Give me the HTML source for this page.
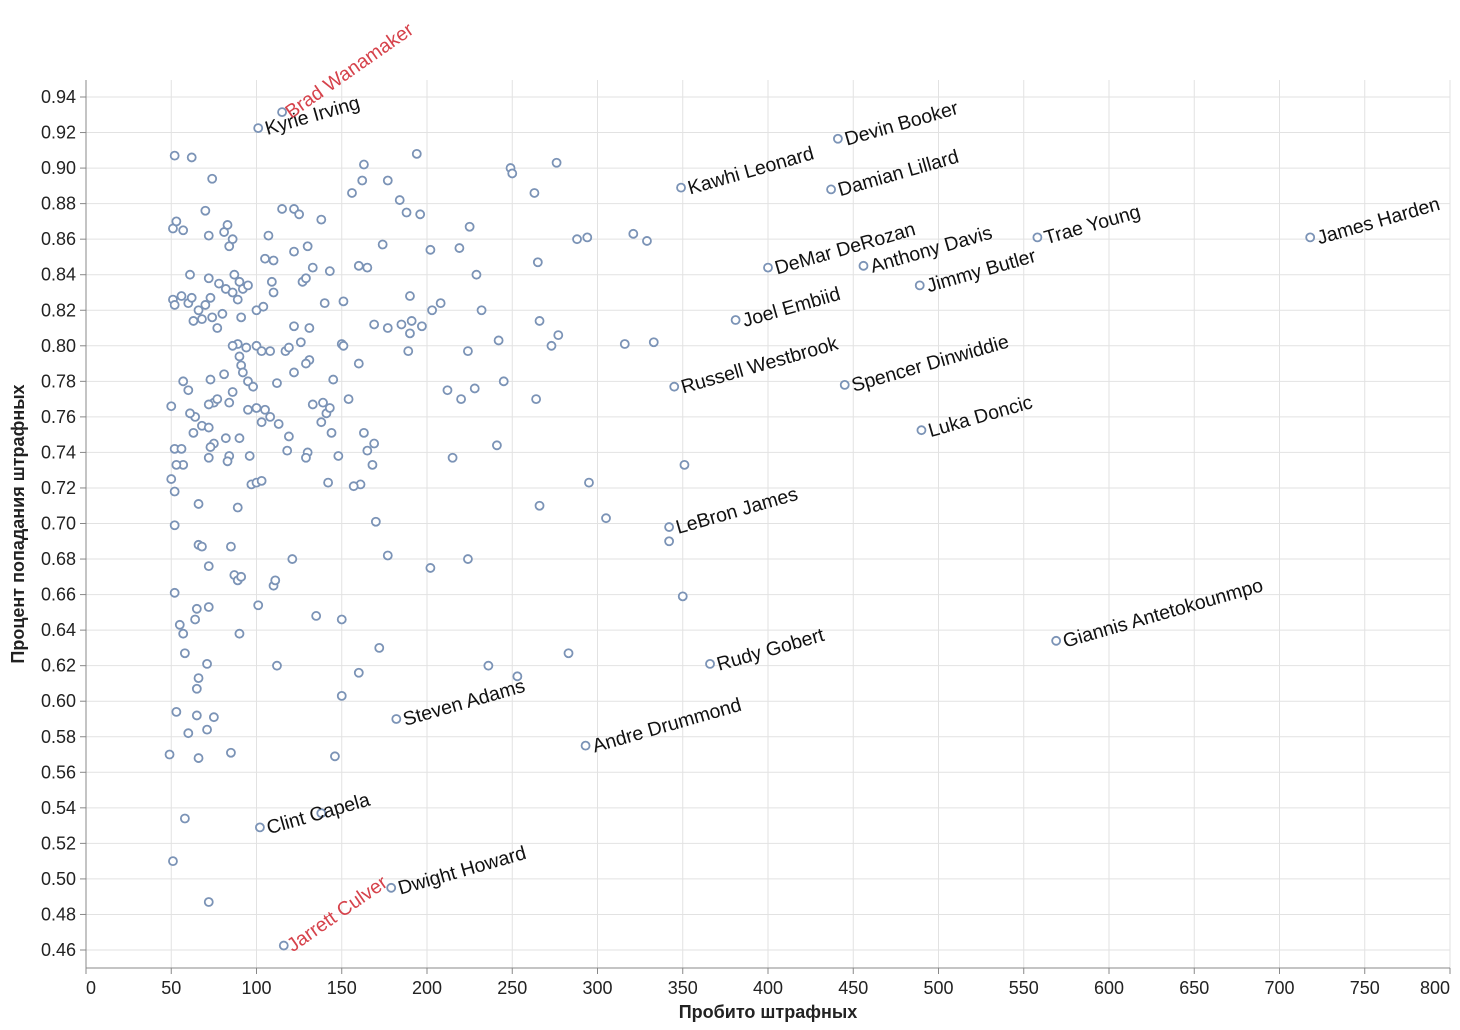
<!DOCTYPE html>
<html><head><meta charset="utf-8"><style>
body{margin:0;background:#fff;}
svg{display:block;font-family:"Liberation Sans",sans-serif;}
</style></head><body>
<svg id="chart" width="1460" height="1030" viewBox="0 0 1460 1030"></svg>
<script>
const xTicks=[0,50,100,150,200,250,300,350,400,450,500,550,600,650,700,750,800];
const yTicks=[0.46,0.48,0.50,0.52,0.54,0.56,0.58,0.60,0.62,0.64,0.66,0.68,0.70,0.72,0.74,0.76,0.78,0.80,0.82,0.84,0.86,0.88,0.90,0.92,0.94];
const namedPlayers=["Brad Wanamaker","Kyrie Irving","Devin Booker","Kawhi Leonard","Damian Lillard","James Harden","Trae Young","DeMar DeRozan","Anthony Davis","Jimmy Butler","Joel Embiid","Russell Westbrook","Spencer Dinwiddie","Luka Doncic","LeBron James","Giannis Antetokounmpo","Rudy Gobert","Steven Adams","Andre Drummond","Clint Capela","Dwight Howard","Jarrett Culver"];
const namedAttempts=[115,101,441,349,437,718,558,400,456,489,381,345,445,490,342,569,366,182,293,102,179,116];
const namedPct=[0.9315,0.9225,0.9165,0.889,0.888,0.861,0.861,0.844,0.845,0.834,0.8145,0.777,0.778,0.7525,0.698,0.634,0.621,0.590,0.575,0.529,0.495,0.4625];
const otherAttempts=[52,62,74,51,53,57,70,72,81,83,84,86,61,51,52,56,60,62,66,63,68,70,73,74,72,78,80,77,82,87,86,90,92,95,89,91,100,104,107,105,110,109,110,115,122,125,122,130,138,127,129,133,143,140,151,156,162,163,177,184,188,196,194,174,160,165,202,219,225,229,190,203,208,232,249,250,276,263,265,288,294,321,329,266,277,273,316,333,242,224,245,228,220,212,264,241,215,351,295,305,266,342,350,283,253,236,224,202,177,185,191,190,197,189,150,151,145,154,139,141,143,138,144,133,130,129,131,129,122,117,119,126,122,131,112,118,119,113,108,105,100,95,103,100,103,108,94,90,91,89,86,92,95,98,86,84,73,81,75,72,77,64,61,63,68,72,75,73,72,82,84,90,83,96,57,60,50,52,56,57,53,50,52,52,97,100,103,66,89,66,68,85,72,87,89,91,110,111,121,52,65,72,64,101,135,150,55,57,90,58,112,71,66,65,172,160,150,53,65,75,60,71,66,85,146,49,58,51,72,138,148,161,163,169,165,168,170,177,157,142,160,169];
const otherPct=[0.907,0.906,0.894,0.866,0.870,0.865,0.876,0.862,0.864,0.868,0.856,0.860,0.840,0.826,0.823,0.828,0.824,0.827,0.820,0.814,0.815,0.823,0.827,0.816,0.838,0.835,0.818,0.810,0.832,0.840,0.830,0.836,0.832,0.834,0.826,0.816,0.820,0.822,0.862,0.849,0.848,0.836,0.830,0.877,0.877,0.874,0.853,0.856,0.871,0.836,0.838,0.844,0.842,0.824,0.825,0.886,0.893,0.902,0.893,0.882,0.875,0.874,0.908,0.857,0.845,0.844,0.854,0.855,0.867,0.840,0.828,0.820,0.824,0.820,0.900,0.897,0.903,0.886,0.847,0.860,0.861,0.863,0.859,0.814,0.806,0.800,0.801,0.802,0.803,0.797,0.780,0.776,0.770,0.775,0.770,0.744,0.737,0.733,0.723,0.703,0.710,0.690,0.659,0.627,0.614,0.620,0.680,0.675,0.810,0.812,0.814,0.807,0.811,0.797,0.801,0.800,0.781,0.770,0.768,0.762,0.765,0.757,0.751,0.767,0.740,0.737,0.792,0.790,0.785,0.797,0.799,0.802,0.811,0.810,0.779,0.741,0.749,0.756,0.760,0.764,0.765,0.764,0.757,0.800,0.797,0.797,0.799,0.794,0.789,0.801,0.800,0.785,0.780,0.777,0.774,0.768,0.781,0.784,0.768,0.767,0.770,0.760,0.762,0.751,0.755,0.754,0.745,0.743,0.737,0.748,0.738,0.748,0.735,0.738,0.780,0.775,0.766,0.742,0.742,0.733,0.733,0.725,0.718,0.699,0.722,0.723,0.724,0.711,0.709,0.688,0.687,0.687,0.676,0.671,0.668,0.670,0.665,0.668,0.680,0.661,0.652,0.653,0.646,0.654,0.648,0.646,0.643,0.638,0.638,0.627,0.620,0.621,0.613,0.607,0.630,0.616,0.603,0.594,0.592,0.591,0.582,0.584,0.568,0.571,0.569,0.570,0.534,0.510,0.487,0.537,0.738,0.722,0.751,0.745,0.741,0.733,0.701,0.682,0.721,0.723,0.790,0.812];
const redNames=["Brad Wanamaker","Jarrett Culver"];

const NS="http://www.w3.org/2000/svg";
const svg=document.getElementById('chart');
const L=86,R=1450,T=80,B=968;
const xs=v=>L+(v/800)*(R-L);
const ys=v=>97+(0.94-v)/0.48*853;
function mk(tag,attrs,parent){const e=document.createElementNS(NS,tag);for(const k in attrs)e.setAttribute(k,attrs[k]);(parent||svg).appendChild(e);return e;}

const grid=mk('g',{});


xTicks.forEach(t=>{mk('line',{x1:xs(t),x2:xs(t),y1:T,y2:B,stroke:'#e2e2e2','stroke-width':1},grid);});
yTicks.forEach(t=>{mk('line',{x1:L,x2:R,y1:ys(t),y2:ys(t),stroke:'#e2e2e2','stroke-width':1},grid);});

const xAxis=mk('g',{});


mk('line',{x1:L,x2:R,y1:B,y2:B,stroke:'#888'},xAxis);
xTicks.forEach(t=>{
  mk('line',{x1:xs(t),x2:xs(t),y1:B,y2:B+6,stroke:'#888'},xAxis);
  const tx=mk('text',{x:xs(t),y:B+26,'text-anchor':t===0?'start':(t===800?'end':'middle'),'font-size':18,fill:'#222'},xAxis);
  
  
  tx.textContent=t;
});
const yAxis=mk('g',{});


mk('line',{x1:L,x2:L,y1:T,y2:B,stroke:'#888'},yAxis);
yTicks.forEach(t=>{
  mk('line',{x1:L-6,x2:L,y1:ys(t),y2:ys(t),stroke:'#888'},yAxis);
  const tx=mk('text',{x:L-10,y:ys(t)+6,'text-anchor':'end','font-size':18,fill:'#222'},yAxis);
  
  
  tx.textContent=t.toFixed(2);
});
const xt=mk('text',{x:(L+R)/2,y:1018,'text-anchor':'middle','font-size':18,'font-weight':'bold',fill:'#222'});


xt.textContent='Пробито штрафных';
const yt=mk('text',{x:0,y:0,'text-anchor':'middle','font-size':18,'font-weight':'bold',fill:'#222',transform:`translate(24,${(T+B)/2}) rotate(-90)`});


yt.textContent='Процент попадания штрафных';

const pts=mk('g',{});


otherAttempts.forEach((a,i)=>{
  const c=mk('circle',{cx:xs(a),cy:ys(otherPct[i]),r:4,fill:'#fff',stroke:'#7b93b6','stroke-width':1.8},pts);
  
  
});
namedPlayers.forEach((n,i)=>{
  const x=xs(namedAttempts[i]),y=ys(namedPct[i]);
  const c=mk('circle',{cx:x,cy:y,r:4,fill:'#fff',stroke:'#7b93b6','stroke-width':1.8},pts);
  
  
  const red=redNames.includes(n);
  const ang=red?-35:-16;
  const tx=mk('text',{x:0,y:0,'font-size':19.5,fill:red?'#d6424b':'#111',transform:`translate(${x+9},${y+7}) rotate(${ang})`},pts);
  
  
  tx.textContent=n;
});
</script>
</body></html>
